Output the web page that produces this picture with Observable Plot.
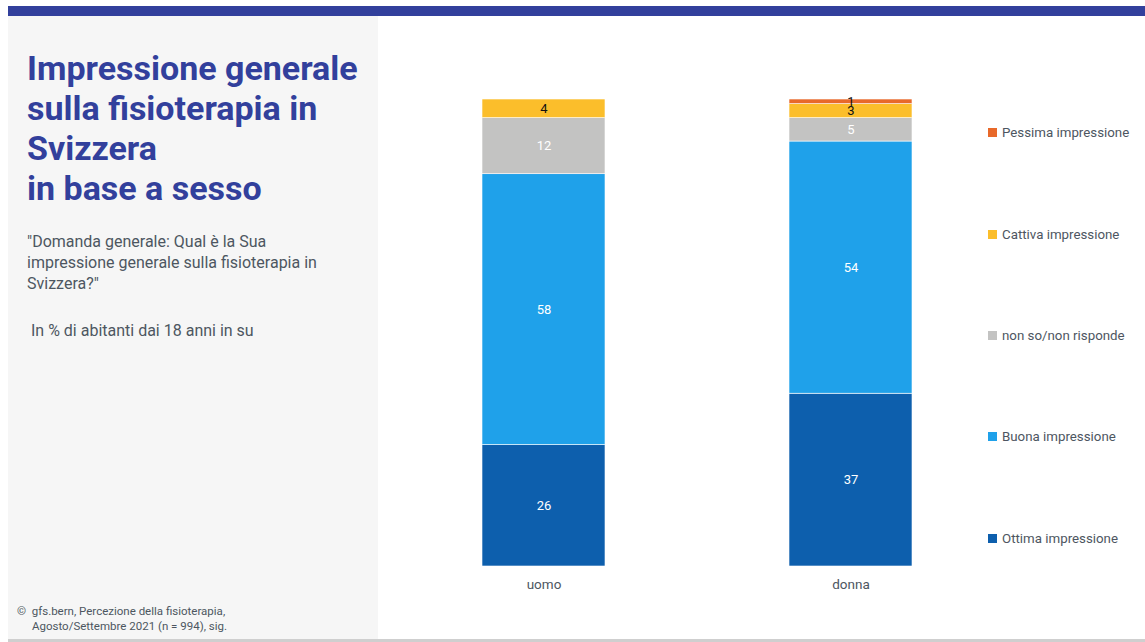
<!DOCTYPE html>
<html><head><meta charset="utf-8">
<script src="https://cdn.jsdelivr.net/npm/d3@7"></script>
<script src="https://cdn.jsdelivr.net/npm/@observablehq/plot@0.6"></script>
<style>
body{margin:0;width:1145px;height:642px;position:relative;background:#fff;font-family:Roboto,sans-serif;overflow:hidden}
#topbar{position:absolute;left:8px;top:6px;width:1137px;height:10px;background:#32409c}
#panel{position:absolute;left:8px;top:16px;width:370px;height:623px;background:#f6f6f6}
#bottomline{position:absolute;left:8px;top:639px;width:1137px;height:3px;background:#cfcfcf}
#title{position:absolute;left:27px;top:48px;margin:0;font-size:34px;line-height:40px;font-weight:700;color:#32409c}
#sub{position:absolute;left:27px;top:231px;white-space:nowrap;font-size:16px;line-height:21px;color:#4d5661}
#unit{position:absolute;left:27px;top:320px;font-size:16px;line-height:21px;color:#4d5661;white-space:pre}
#foot{position:absolute;left:17px;top:604px;font-size:11.5px;line-height:15px;color:#4d5661}
#chart{position:absolute;left:378px;top:16px}
#legend{position:absolute;left:988px;top:0}
.li{position:absolute;left:0;white-space:nowrap;font-size:13.3px;color:#4d5661;line-height:16px}
.sw{display:inline-block;width:9px;height:9px;margin-right:5px;vertical-align:0px}
</style></head>
<body>
<div id="topbar"></div>
<div id="panel"></div>
<div id="bottomline"></div>
<h1 id="title">Impressione generale<br>sulla fisioterapia in<br>Svizzera<br>in base a sesso</h1>
<div id="sub">"Domanda generale: Qual è la Sua<br>impressione generale sulla fisioterapia in<br>Svizzera?"</div>
<div id="unit"> In % di abitanti dai 18 anni in su</div>
<div id="foot">©&nbsp; gfs.bern, Percezione della fisioterapia,<br><span style="padding-left:15px">Agosto/Settembre 2021 (n = 994), sig.</span></div>
<div id="chart"></div>
<div id="legend"></div>
<script>
const groups = ["uomo", "donna"];
const series = ["Ottima impressione", "Buona impressione", "non so/non risponde", "Cattiva impressione", "Pessima impressione"];
const colors = ["#0d5fad", "#1fa1ea", "#c3c3c2", "#fbbe2b", "#e8692a"];
const uomo = [26, 58, 12, 4, 0];
const donna = [37, 54, 5, 3, 1];
const darkLabel = ["Cattiva impressione", "Pessima impressione"];

const values = {uomo, donna};
const data = [];
for (const g of groups) series.forEach((s, i) => { if (values[g][i] > 0) data.push({group: g, series: s, value: values[g][i]}); });

const stackOpts = {x: "group", y: "value", z: "series", order: series};
const chart = Plot.plot({
  width: 590, height: 590,
  marginLeft: 104, marginRight: 56, marginTop: 83, marginBottom: 40,
  style: {fontFamily: "Roboto, sans-serif", background: "transparent"},
  x: {domain: groups, paddingInner: 0.6, paddingOuter: 0, label: null, tickSize: 0, tickPadding: 13},
  y: {domain: [0, 100], axis: null},
  color: {domain: series, range: colors},
  marks: [
    Plot.barY(data, Plot.stackY({...stackOpts, fill: "series", stroke: "white", strokeWidth: 0.6})),
    Plot.text(data, Plot.stackY({...stackOpts, text: d => darkLabel.includes(d.series) ? "" : String(d.value), fill: "white", fontSize: 13})),
    Plot.text(data, Plot.stackY({...stackOpts, text: d => darkLabel.includes(d.series) ? String(d.value) : "", fill: "#111", fontSize: 13}))
  ]
});
chart.querySelectorAll('g[aria-label="x-axis tick label"]').forEach(e => { e.setAttribute("fill", "#4d5661"); e.style.fontSize = "13.5px"; });
document.getElementById("chart").appendChild(chart);

const legendY = [133, 235, 336, 437, 539];
const leg = document.getElementById("legend");
[...series].reverse().forEach((s, k) => {
  const i = series.indexOf(s);
  const d = document.createElement("div");
  d.className = "li";
  d.style.top = (legendY[k] - 8) + "px";
  d.innerHTML = `<span class="sw" style="background:${colors[i]}"></span>${s}`;
  leg.appendChild(d);
});
</script>
</body></html>
